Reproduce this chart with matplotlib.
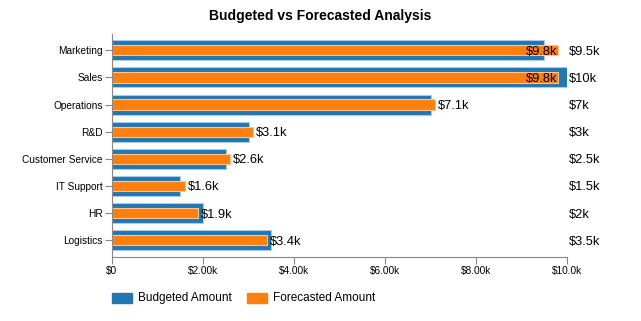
import matplotlib
matplotlib.use("Agg")
import matplotlib.pyplot as plt
from matplotlib.patches import Rectangle

categories = ["Marketing", "Sales", "Operations", "R&D", "Customer Service", "IT Support", "HR", "Logistics"]
budgeted = [9500, 10000, 7000, 3000, 2500, 1500, 2000, 3500]
forecasted = [9800, 9800, 7100, 3100, 2600, 1600, 1900, 3400]
budget_labels = ["$9.5k", "$10k", "$7k", "$3k", "$2.5k", "$1.5k", "$2k", "$3.5k"]
forecast_labels = ["$9.8k", "$9.8k", "$7.1k", "$3.1k", "$2.6k", "$1.6k", "$1.9k", "$3.4k"]
xticks = [0, 2000, 4000, 6000, 8000, 10000]
xtick_labels = ["$0", "$2.00k", "$4.00k", "$6.00k", "$8.00k", "$10.0k"]

plt.rcParams['font.family'] = ['Liberation Sans', 'DejaVu Sans']
blue = "#1f77b4"
orange = "#ff7f0e"

fig = plt.figure(figsize=(6.41, 3.21), dpi=100)
ax = fig.add_axes([112/641, 1-256.5/321, 455/641, 222.5/321])
y = list(range(len(categories)))
ax.barh(y, budgeted, height=0.74, color=blue, edgecolor="#a9cbe6", linewidth=0.8)
ax.barh(y, forecasted, height=0.38, color=orange, edgecolor="#ffc48f", linewidth=0.8)
ax.set_xlim(0, 10000)
ax.set_ylim(7.6, -0.6)
ax.set_yticks(y)
ax.set_yticklabels(categories, fontsize=7.3)
ax.set_xticks(xticks)
ax.set_xticklabels(xtick_labels, fontsize=7.3)
for s in ["top", "right"]:
    ax.spines[s].set_visible(False)
for s in ["left", "bottom"]:
    ax.spines[s].set_color("#888888")
ax.tick_params(axis='both', colors="#888888", length=5, width=0.8, labelcolor="black", pad=1.5)

for i, (f, lab) in enumerate(zip(forecasted, forecast_labels)):
    if f > 9000:
        ax.text(f, i, lab, ha="right", va="center_baseline", fontsize=9.3, color="black")
    else:
        ax.text(f + 60, i, lab, ha="left", va="center_baseline", fontsize=9.3, color="black")
for i, lab in enumerate(budget_labels):
    ax.text(10050, i, lab, ha="left", va="center_baseline", fontsize=9.3, color="black", clip_on=False)

fig.text(0.5, 1-16/321, "Budgeted vs Forecasted Analysis", ha="center", va="center",
         fontsize=10, fontweight="bold")

# legend
fig.patches.append(Rectangle((112/641, 1-303/321), 20/641, 10/321, color=blue, transform=fig.transFigure))
fig.text(138/641, 1-298/321, "Budgeted Amount", ha="left", va="center", fontsize=8.5)
fig.patches.append(Rectangle((247/641, 1-303/321), 20/641, 10/321, color=orange, transform=fig.transFigure))
fig.text(273/641, 1-298/321, "Forecasted Amount", ha="left", va="center", fontsize=8.5)

fig.savefig("out.png", dpi=100)
